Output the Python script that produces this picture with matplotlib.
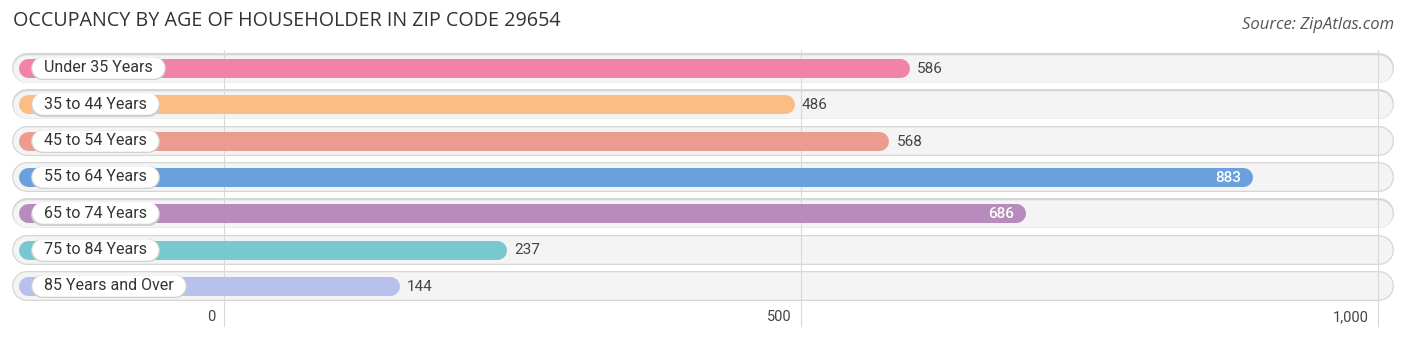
import matplotlib
matplotlib.use("Agg")
import matplotlib.pyplot as plt

categories = ["Under 35 Years", "35 to 44 Years", "45 to 54 Years", "55 to 64 Years",
              "65 to 74 Years", "75 to 84 Years", "85 Years and Over"]
values = [586, 486, 568, 883, 686, 237, 144]
colors = ["#f282a6", "#fbbd83", "#ec9b91", "#6aa1dc", "#b78bbc", "#78c8cf", "#b8c1ec"]
ticks = [0, 500, 1000]
tick_labels = ["0", "500", "1,000"]

W, H = 1406, 341
PX = 1.154          # pixels per data unit
X0 = 224            # pixel of value 0

fig = plt.figure(figsize=(W / 100, H / 100), dpi=100)
ax = fig.add_axes([0, 0, 1, 1])
ax.set_xlim(-X0 / PX, (W - X0) / PX)
ax.set_ylim(H, 0)
ax.axis("off")

def px(xp):
    return (xp - X0) / PX

def lw(p):
    return p * 72 / 100

rows = [68 + i * 36.3 for i in range(len(categories))]

# grid
for t, lab in zip(ticks, tick_labels):
    ax.plot([t, t], [50, 326], color="#d9d9d9", lw=0.8, zorder=2)
    ax.text(t - 9 / PX, 317, lab, ha="right", va="center", fontsize=10.5, color="#444444", family="Roboto")

fig.canvas.draw()
renderer = fig.canvas.get_renderer()

for y, cat, v, c in zip(rows, categories, values, colors):
    # background track
    ax.plot([px(27), px(1379)], [y, y], color="#d6d6d6", lw=lw(30), solid_capstyle="round", zorder=1)
    ax.plot([px(27), px(1379)], [y + 0.6, y + 0.6], color="#f4f4f4", lw=lw(27.5), solid_capstyle="round", zorder=1.5)
    # bar
    ax.plot([px(28), v], [y, y], color=c, lw=lw(19), solid_capstyle="round", zorder=3)
    # label pill
    t = ax.text(px(44), y, cat, ha="left", va="center", fontsize=11.5, color="#333333", family="Roboto", zorder=6)
    bb = t.get_window_extent(renderer)
    right = bb.x1
    ax.plot([px(42), px(right + 1)], [y + 0.3, y + 0.3], color="#d0d0d0", lw=lw(23), solid_capstyle="round", zorder=4)
    ax.plot([px(43), px(right + 1)], [y, y], color="white", lw=lw(21.5), solid_capstyle="round", zorder=5)
    if v > 650:
        ax.text(v - 2 / PX, y + 1, str(v), ha="right", va="center", fontsize=11, color="white",
                family="Roboto", fontweight="medium", zorder=6)
    else:
        ax.text(v + 17 / PX, y + 1, str(v), ha="left", va="center", fontsize=11, color="#444444",
                family="Roboto", zorder=6)

fig.text(13 / W, 1 - 21 / H, "OCCUPANCY BY AGE OF HOUSEHOLDER IN ZIP CODE 29654", ha="left", va="center",
         fontsize=14.2, color="#333333", family="Open Sans")
fig.text(1394 / W, 1 - 25 / H, "Source: ZipAtlas.com", ha="right", va="center",
         fontsize=12, color="#555555", family="Open Sans", style="italic")

fig.savefig("out.png", dpi=100)
